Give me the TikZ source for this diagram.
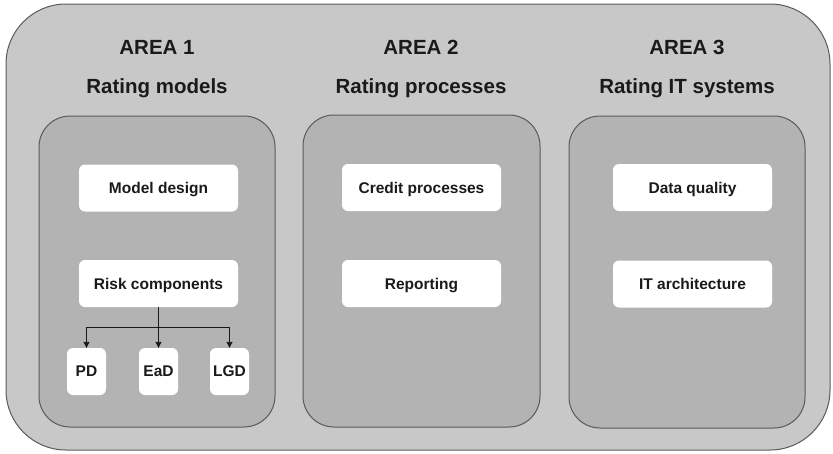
\documentclass[tikz,border=0pt]{standalone}
\usepackage{fontspec}
\setmainfont{Liberation Sans}
\usetikzlibrary{arrows.meta}
\definecolor{outerfill}{HTML}{C8C8C8}
\definecolor{innerfill}{HTML}{B3B3B3}
\definecolor{edgegray}{HTML}{5A5A5A}
\definecolor{inktext}{HTML}{1A1A1A}
\begin{document}
\begin{tikzpicture}[x=1pt,y=-1pt,
  panel/.style={draw=edgegray,line width=1pt,rounded corners=#1,inner sep=0pt},
  heading/.style={font=\bfseries\fontsize{20.5}{24}\selectfont,text=inktext,inner sep=0pt,text depth=0pt},
  itembox/.style={fill=white,rounded corners=6pt,minimum width=159pt,minimum height=47pt,
    inner sep=0pt,text depth=0pt,font=\bfseries\fontsize{15.5}{18}\selectfont,text=inktext},
  smallbox/.style={itembox,minimum width=39pt},
  link/.style={draw=inktext,line width=0.9pt,-{Triangle[length=6pt,width=6pt]}}]
\useasboundingbox (0,0) rectangle (833,453);

% outer frame
\node[panel=60pt,fill=outerfill,minimum width=824pt,minimum height=446pt] (frame) at (418,227) {};

% headings
\node[heading] (a1) at (157,47) {AREA 1};
\node[heading] (t1) at (157,86) {Rating models};
\node[heading] (a2) at (421,47) {AREA 2};
\node[heading] (t2) at (421,86) {Rating processes};
\node[heading] (a3) at (687,47) {AREA 3};
\node[heading] (t3) at (687,86) {Rating IT systems};

% area panels
\node[panel=31pt,fill=innerfill,minimum width=236pt,minimum height=311pt] (p1) at (157,271.5) {};
\node[panel=31pt,fill=innerfill,minimum width=237pt,minimum height=312pt] (p2) at (421.5,271) {};
\node[panel=31pt,fill=innerfill,minimum width=236pt,minimum height=312pt] (p3) at (687,272) {};

% area 1 items
\node[itembox] (md) at (158.5,188) {Model design};
\node[itembox] (rc) at (158.5,283.5) {Risk components};
\node[smallbox] (pd) at (86.5,371.5) {PD};
\node[smallbox] (ead) at (158.5,371.5) {EaD};
\node[smallbox] (lgd) at (229.5,371.5) {LGD};

% area 2 items
\node[itembox] (cp) at (421.5,187.5) {Credit processes};
\node[itembox] (rep) at (421.5,283.5) {Reporting};

% area 3 items
\node[itembox] (dq) at (692.5,187.5) {Data quality};
\node[itembox] (ita) at (692.5,284) {IT architecture};

% risk component branches
\coordinate (bar) at (158.5,327);
\draw[link] (rc.south) -- (ead.north);
\draw[link] (bar) -| (pd.north);
\draw[link] (bar) -| (lgd.north);
\end{tikzpicture}
\end{document}
